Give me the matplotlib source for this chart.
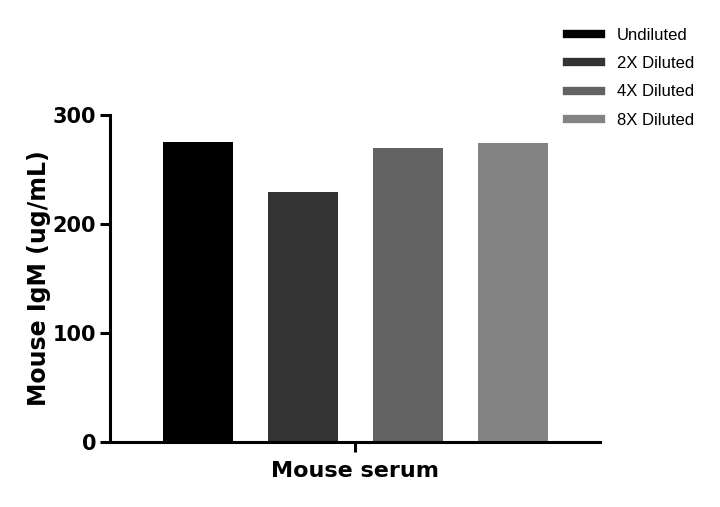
import numpy as np
import matplotlib.pyplot as plt
from matplotlib.lines import Line2D

# Mouse IgM measured at several dilutions
groups = ["Undiluted", "2X Diluted", "4X Diluted", "8X Diluted"]
igm = [275, 229, 270, 274]
colors = ["#000000", "#333333", "#636363", "#838383"]
category = "Mouse serum"

fig = plt.figure(figsize=(7.2, 5.07), dpi=100)
ax = fig.add_axes([0.1528, 0.128, 0.6805, 0.645])

x = np.arange(len(groups))
ax.bar(x, igm, width=0.667, color=colors)

ax.set_xlim(-0.838, 3.829)
ax.set_ylim(0, 300)
ax.set_yticks([0, 100, 200, 300])
ax.set_xticks([1.5])
ax.set_xticklabels([""])

for s in ["top", "right"]:
    ax.spines[s].set_visible(False)
for s in ["left", "bottom"]:
    ax.spines[s].set_linewidth(2.2)
ax.tick_params(axis="both", width=2.2, length=7, direction="out")
ax.tick_params(axis="y", labelsize=15, pad=3)
for lab in ax.get_yticklabels():
    lab.set_fontweight("bold")

ax.set_ylabel("Mouse IgM (ug/mL)", fontsize=17, fontweight="bold", labelpad=1)
ax.set_xlabel(category, fontsize=16, fontweight="bold", labelpad=3)

handles = [Line2D([0], [0], color=c, lw=6) for c in colors]
fig.legend(handles, groups, loc="upper left", bbox_to_anchor=(0.767, 0.975),
           frameon=False, prop={"family": "Liberation Sans", "size": 12},
           handlelength=2.0, handletextpad=1.0, labelspacing=0.8)

fig.savefig("out.png", dpi=100)
